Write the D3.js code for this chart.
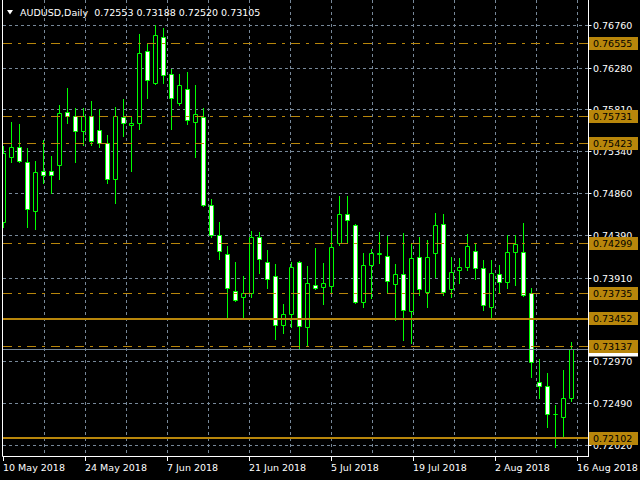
<!DOCTYPE html>
<html><head><meta charset="utf-8">
<script src="https://cdn.jsdelivr.net/npm/d3@7"></script>
<style>html,body{margin:0;padding:0;background:#000;overflow:hidden}</style>
</head><body>
<script>
const dates = [
 "2018-05-09","2018-05-10","2018-05-11","2018-05-14","2018-05-15","2018-05-16","2018-05-17","2018-05-18",
 "2018-05-21","2018-05-22","2018-05-23","2018-05-24","2018-05-25","2018-05-28","2018-05-29","2018-05-30","2018-05-31",
 "2018-06-01","2018-06-04","2018-06-05","2018-06-06","2018-06-07","2018-06-08","2018-06-11","2018-06-12","2018-06-13",
 "2018-06-14","2018-06-15","2018-06-18","2018-06-19","2018-06-20","2018-06-21","2018-06-22","2018-06-25","2018-06-26",
 "2018-06-27","2018-06-28","2018-06-29","2018-07-02","2018-07-03","2018-07-04","2018-07-05","2018-07-06","2018-07-09",
 "2018-07-10","2018-07-11","2018-07-12","2018-07-13","2018-07-16","2018-07-17","2018-07-18","2018-07-19","2018-07-20",
 "2018-07-23","2018-07-24","2018-07-25","2018-07-26","2018-07-27","2018-07-30","2018-07-31","2018-08-01","2018-08-02",
 "2018-08-03","2018-08-06","2018-08-07","2018-08-08","2018-08-09","2018-08-10","2018-08-13","2018-08-14","2018-08-15","2018-08-16"
];
const open = [0.74539,0.75279,0.75392,0.75216,0.74661,0.75115,0.75115,0.75191,0.75780,0.75735,0.75566,0.75735,0.75577,0.75431,0.75033,0.75724,0.75634,
 0.75656,0.76469,0.76108,0.76627,0.76209,0.75882,0.76040,0.75668,0.75724,0.74731,0.74392,0.74178,0.73760,0.73693,0.73738,0.74370,0.74088,0.73930,
 0.73376,0.73501,0.74088,0.73354,0.73828,0.73814,0.73817,0.74302,0.74629,0.74505,0.73636,0.74054,0.74185,0.74155,0.73839,0.73952,0.73534,0.74144,
 0.73749,0.74189,0.74516,0.73783,0.73997,0.74031,0.74212,0.74020,0.73580,0.73952,0.73862,0.74207,0.74200,0.73738,0.72733,0.72688,0.72379,0.72338,0.72553];
const high = [0.75400,0.75671,0.75648,0.75374,0.75227,0.75468,0.75284,0.75863,0.76051,0.75829,0.75829,0.75908,0.75814,0.75521,0.75837,0.75930,0.75731,
 0.76664,0.76559,0.76762,0.76732,0.76266,0.76213,0.76239,0.76089,0.75826,0.74802,0.74542,0.74271,0.74091,0.73933,0.74437,0.74429,0.74226,0.74068,
 0.73617,0.74091,0.74100,0.74046,0.74246,0.74076,0.74446,0.74836,0.74836,0.74520,0.74190,0.74234,0.74427,0.74384,0.74066,0.74418,0.74302,0.74373,
 0.74339,0.74644,0.74633,0.74147,0.74133,0.74407,0.74302,0.74113,0.74113,0.74057,0.74396,0.74396,0.74531,0.73794,0.72993,0.72835,0.72477,0.72869,0.73188];
const low = [0.74483,0.75223,0.75223,0.74483,0.74467,0.74979,0.74873,0.75024,0.75656,0.75223,0.75411,0.75408,0.75392,0.74979,0.74753,0.75516,0.75121,
 0.75592,0.75945,0.76100,0.76114,0.75595,0.75866,0.75648,0.75279,0.74725,0.74376,0.74128,0.73474,0.73650,0.73474,0.73693,0.73963,0.73794,0.73218,
 0.73293,0.73354,0.73117,0.73143,0.73790,0.73613,0.73741,0.74279,0.74302,0.73630,0.73586,0.73681,0.74080,0.73738,0.73431,0.73211,0.73173,0.73715,
 0.73586,0.73918,0.73715,0.73693,0.73851,0.74001,0.73896,0.73546,0.73467,0.73738,0.73794,0.73828,0.73707,0.72796,0.72553,0.72232,0.72006,0.72112,0.72520];
const close = [0.75318,0.75392,0.75227,0.74686,0.75103,0.75069,0.75069,0.75769,0.75735,0.75566,0.75735,0.75453,0.75431,0.75033,0.75742,0.75656,0.75656,
 0.76446,0.76142,0.76649,0.76198,0.75938,0.76085,0.75690,0.75758,0.74731,0.74392,0.74212,0.73794,0.73659,0.73738,0.74370,0.74121,0.73896,0.73376,
 0.73501,0.74031,0.73365,0.73851,0.73794,0.73851,0.74257,0.74629,0.74562,0.73636,0.74054,0.74189,0.74189,0.73873,0.73952,0.73546,0.74133,0.73783,
 0.74144,0.74505,0.73749,0.73975,0.74031,0.74268,0.74020,0.73602,0.73963,0.73862,0.74200,0.74291,0.73715,0.72959,0.72688,0.72372,0.72380,0.72553,0.73105];
const priceTicks = [0.76760,0.76280,0.75810,0.75340,0.74860,0.74390,0.73910,0.73440,0.72970,0.72490,0.72020];
const dateLabels = ["10 May 2018","24 May 2018","7 Jun 2018","21 Jun 2018","5 Jul 2018","19 Jul 2018","2 Aug 2018","16 Aug 2018"];
const levels = [0.76555,0.75731,0.75423,0.74299,0.73735,0.73452,0.73137,0.72102];
const levelStyles = ["dashdot","dashdot","dashdot","dashdot","dashdot","solid","dashdot","solid"];
const symbol = "AUDUSD,Daily";
const bid = 0.73105;

const W = 640, H = 480;
const L = 2.5, R = 588.5, B = 456.5;
const font = "DejaVu Sans", fs = "9.5px";
const gridColor = "#778899", levelColor = "#b8860b", bull = "#00ff00";

const svg = d3.select("body").append("svg").attr("width", W).attr("height", H)
  .style("display","block").style("background","#000");

const y = d3.scaleLinear().domain([0.72020, 0.76760]).range([445.5, 25.5]);
const py = p => Math.round(y(p) - 0.5) + 0.5;
const x = d3.scaleBand().domain(dates).range([-0.5, 575.5]).padding(0);
const cx = d => x(d) + x.bandwidth() / 2;
const xt = d3.scalePoint().domain(dateLabels).range([3.5, 577.5]);

svg.append("defs").append("clipPath").attr("id","plot")
  .append("rect").attr("x", 3).attr("y", 0).attr("width", R - 3.5).attr("height", B - 0.5);

// grid
const grid = svg.append("g").attr("stroke", gridColor).attr("stroke-dasharray", "3,3").attr("stroke-width", 1);
grid.selectAll("line.h").data(priceTicks).join("line").attr("class","h")
  .attr("x1", 3).attr("x2", R - 0.5).attr("y1", d => py(d)).attr("y2", d => py(d));
const half = xt.step() / 2;
const gridX = d3.range(1, dateLabels.length * 2 - 1).map(k => xt(dateLabels[0]) + k * half);
grid.selectAll("line.v").data(gridX).join("line").attr("class","v")
  .attr("x1", d => d).attr("x2", d => d).attr("y1", 0).attr("y2", B - 0.5);

// candles
const candles = dates.map((d, i) => ({d, o: open[i], h: high[i], l: low[i], c: close[i]}));
const cg = svg.append("g").attr("clip-path", "url(#plot)");
cg.selectAll("line.wick").data(candles).join("line").attr("class","wick")
  .attr("x1", d => cx(d.d)).attr("x2", d => cx(d.d))
  .attr("y1", d => Math.round(y(d.h))).attr("y2", d => Math.round(y(d.l)) + 1)
  .attr("stroke", bull).attr("stroke-width", 1);
cg.selectAll("path.body").data(candles).join("path").attr("class","body")
  .attr("d", d => {
    const x0 = cx(d.d) - 2, x1 = cx(d.d) + 2;
    const y0 = Math.round(y(Math.max(d.o, d.c))) + 0.5, y1 = Math.round(y(Math.min(d.o, d.c))) + 0.5;
    return `M${x0},${y0}H${x1}V${y1}H${x0}Z`;
  })
  .attr("fill", d => d.c >= d.o ? "#000" : "#fff")
  .attr("stroke", bull).attr("stroke-width", 1);

// bid line
svg.append("line").attr("x1", 3).attr("x2", R - 0.5).attr("y1", py(bid)).attr("y2", py(bid))
  .attr("stroke", gridColor).attr("stroke-width", 1);

// level lines
svg.append("g").attr("clip-path", "url(#plot)").selectAll("line").data(levels).join("line")
  .attr("x1", 3).attr("x2", R - 0.5)
  .attr("y1", (d, i) => levelStyles[i] === "solid" ? Math.round(y(d)) : py(d))
  .attr("y2", (d, i) => levelStyles[i] === "solid" ? Math.round(y(d)) : py(d))
  .attr("stroke", levelColor)
  .attr("stroke-width", (d, i) => levelStyles[i] === "solid" ? 2 : 1)
  .attr("stroke-dasharray", (d, i) => levelStyles[i] === "solid" ? null : "9,6,3,6");

// borders
const border = svg.append("g").attr("stroke", "#fff").attr("stroke-width", 1);
border.append("line").attr("x1", L).attr("x2", L).attr("y1", 0).attr("y2", B);
border.append("line").attr("x1", R).attr("x2", R).attr("y1", 0).attr("y2", B + 0.5);
border.append("line").attr("x1", L).attr("x2", R).attr("y1", B).attr("y2", B);

// price axis
const yAxis = svg.append("g");
yAxis.selectAll("line").data(priceTicks).join("line")
  .attr("x1", R).attr("x2", R + 3).attr("y1", d => py(d)).attr("y2", d => py(d)).attr("stroke", "#fff");
yAxis.selectAll("text").data(priceTicks).join("text")
  .attr("x", 593).attr("y", d => py(d) + 3.5)
  .attr("fill", "#fff").attr("font-family", font).attr("font-size", fs)
  .text(d => d.toFixed(5));

// bid label
svg.append("rect").attr("x", 589).attr("y", py(bid) - 7).attr("width", 49).attr("height", 14).attr("fill", "#fff");
svg.append("text").attr("x", 593).attr("y", py(bid) + 3.5).attr("fill", "#000")
  .attr("font-family", font).attr("font-size", fs).text(bid.toFixed(5));

// level labels
const lg = svg.append("g").selectAll("g").data(levels).join("g");
lg.append("rect").attr("x", 589).attr("y", d => py(d) - 6.5).attr("width", 49).attr("height", 13).attr("fill", levelColor);
lg.append("text").attr("x", 593).attr("y", d => py(d) + 3.5).attr("fill", "#000")
  .attr("font-family", font).attr("font-size", fs).text(d => d.toFixed(5));

// time axis
const xAxis = svg.append("g");
xAxis.selectAll("line").data(dateLabels).join("line")
  .attr("x1", d => xt(d)).attr("x2", d => xt(d)).attr("y1", B).attr("y2", 461).attr("stroke", "#fff");
xAxis.selectAll("text").data(dateLabels).join("text")
  .attr("x", d => xt(d) - 0.5).attr("y", 471)
  .attr("fill", "#fff").attr("font-family", font).attr("font-size", fs)
  .text(d => d);

// header
svg.append("path").attr("d", "M7,10L13,10L10,14.5Z").attr("fill", "#fff");
const last = candles[candles.length - 1];
svg.append("text").attr("x", 20).attr("y", 16).attr("fill", "#fff")
  .attr("font-family", font).attr("font-size", fs).style("white-space", "pre")
  .text(`${symbol}  ${last.o.toFixed(5)} ${last.h.toFixed(5)} ${last.l.toFixed(5)} ${last.c.toFixed(5)}`);
</script>
</body></html>
